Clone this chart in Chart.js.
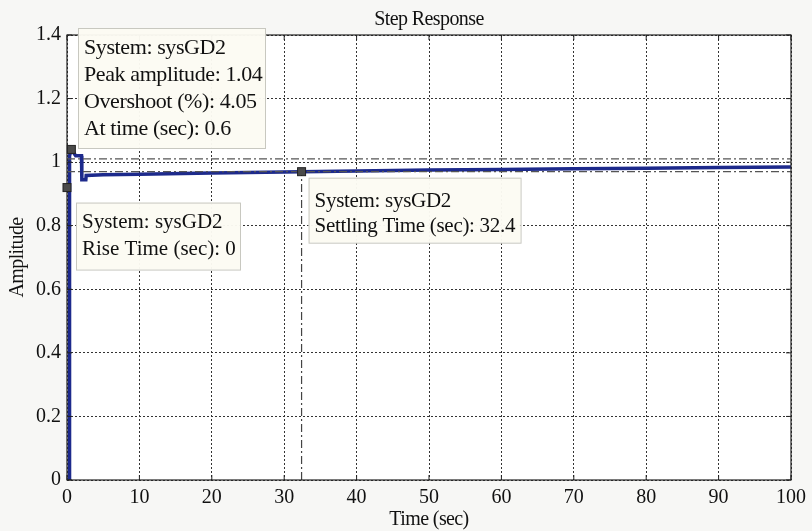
<!DOCTYPE html>
<html><head><meta charset="utf-8">
<script src="https://cdn.jsdelivr.net/npm/chart.js@4"></script>
<style>html,body{margin:0;padding:0;background:#f7f7f5;}#wrap{width:812px;height:531px;}</style>
</head><body><div id="wrap"><canvas id="c" width="812" height="531"></canvas></div>
<script>
// ---- data ----
const time = [0, 0.3, 0.35, 0.6, 1.2, 2.0, 2.05, 2.6, 2.65, 5, 10, 20, 32.4, 40, 50, 60, 70, 80, 90, 100];
const amplitude = [0, 0.0, 1.02, 1.04, 1.02, 1.02, 0.945, 0.945, 0.958, 0.96, 0.962, 0.966, 0.970, 0.972, 0.975, 0.977, 0.979, 0.981, 0.983, 0.985];
const bandUpper = 1.01;
const bandLower = 0.97;
const settlingTime = 32.4;
const peak = {t: 0.6, a: 1.04};
const riseMark = {t: 0, a: 0.92};
const settleMark = {t: 32.4, a: 0.97};
const xTicks = [0,10,20,30,40,50,60,70,80,90,100];
const yTicks = [0,0.2,0.4,0.6,0.8,1,1.2,1.4];
const tipPeak = ["System: sysGD2", "Peak amplitude: 1.04", "Overshoot (%): 4.05", "At time (sec): 0.6"];
const tipRise = ["System: sysGD2", "Rise Time (sec): 0"];
const tipSettle = ["System: sysGD2", "Settling Time (sec): 32.4"];

const SERIF = '"Liberation Serif", "DejaVu Serif", serif';
const respData = time.map((t,i)=>({x:t, y:amplitude[i]}));

const overlay = {
  id:'overlay',
  beforeDraw(chart){
    const {ctx, chartArea:a} = chart;
    ctx.save();
    ctx.fillStyle = '#ffffff';
    ctx.fillRect(a.left, a.top, a.right-a.left, a.bottom-a.top);
    ctx.restore();
  },
  afterDraw(chart){
    const {ctx, chartArea:a, scales:{x,y}} = chart;
    ctx.save();
    // border
    ctx.strokeStyle = '#222'; ctx.lineWidth = 1.2; ctx.setLineDash([]);
    ctx.strokeRect(a.left, a.top, a.right-a.left, a.bottom-a.top);
    // small inner tick marks
    ctx.lineWidth = 1;
    xTicks.forEach(v=>{const px=x.getPixelForValue(v); ctx.beginPath(); ctx.moveTo(px,a.bottom); ctx.lineTo(px,a.bottom-5); ctx.moveTo(px,a.top); ctx.lineTo(px,a.top+5); ctx.stroke();});
    yTicks.forEach(v=>{const py=y.getPixelForValue(v); ctx.beginPath(); ctx.moveTo(a.left,py); ctx.lineTo(a.left+5,py); ctx.moveTo(a.right,py); ctx.lineTo(a.right-5,py); ctx.stroke();});
    // titles
    ctx.fillStyle = '#111';
    ctx.font = '20px ' + SERIF;
    ctx.letterSpacing = '-0.6px';
    ctx.textAlign = 'center'; ctx.textBaseline = 'middle';
    ctx.fillText('Step Response', (a.left+a.right)/2, 20);
    ctx.font = '20px ' + SERIF;
    ctx.letterSpacing = '-0.6px';
    ctx.fillText('Time (sec)', (a.left+a.right)/2, 520);
    ctx.save();
    ctx.translate(18, (a.top+a.bottom)/2);
    ctx.rotate(-Math.PI/2);
    ctx.fillText('Amplitude', 0, 0);
    ctx.restore();
    // data tips
    const box = (lines, x0, y0, w, h, lh, first, fs, sp) => {
      ctx.fillStyle = 'rgba(252,251,243,0.97)';
      ctx.strokeStyle = '#c8c8c0'; ctx.lineWidth = 1; ctx.setLineDash([]);
      ctx.fillRect(x0, y0, w, h);
      ctx.strokeRect(x0+0.5, y0+0.5, w, h);
      ctx.fillStyle = '#111';
      ctx.font = fs + 'px ' + SERIF;
      ctx.letterSpacing = sp + 'px';
      ctx.textAlign = 'left'; ctx.textBaseline = 'middle';
      lines.forEach((s,i)=>ctx.fillText(s, x0+6, y0 + first + lh*i));
    };
    const px0 = x.getPixelForValue(0);
    box(tipPeak, px0+11, y.getPixelForValue(1.4)-7, 187, 120, 27, 20, 22, -0.4);
    box(tipRise, px0+9, y.getPixelForValue(riseMark.a)+15, 164, 67, 27, 20, 21, 0);
    box(tipSettle, x.getPixelForValue(settleMark.t)+7, y.getPixelForValue(settleMark.a)+6, 212, 65, 25, 24, 21, -0.3);
    // markers on top
    const mk = (t,v)=>{
      const px = x.getPixelForValue(t), py = y.getPixelForValue(v);
      ctx.fillStyle = '#4a4a4a'; ctx.strokeStyle = '#222'; ctx.lineWidth = 1;
      ctx.fillRect(px-4, py-4, 8, 8); ctx.strokeRect(px-4, py-4, 8, 8);
    };
    mk(peak.t, peak.a); mk(riseMark.t, riseMark.a); mk(settleMark.t, settleMark.a);
    ctx.restore();
  }
};

new Chart(document.getElementById('c'), {
  type: 'scatter',
  data: {
    datasets: [
      {label:'upper', data:[{x:0,y:bandUpper},{x:100,y:bandUpper}], showLine:true, borderColor:'#555', borderWidth:1.2, borderDash:[8,3,2,3], pointRadius:0},
      {label:'lower', data:[{x:0,y:bandLower},{x:100,y:bandLower}], showLine:true, borderColor:'#555', borderWidth:1.2, borderDash:[8,3,2,3], pointRadius:0},
      {label:'settle', data:[{x:settlingTime,y:0},{x:settlingTime,y:settleMark.a}], showLine:true, borderColor:'#444', borderWidth:1.2, borderDash:[8,3,2,3], pointRadius:0},
      {label:'sysGD2', data:respData, showLine:true, borderColor:'#1d2a8c', borderWidth:3.5, pointRadius:0, tension:0}
    ]
  },
  options: {
    responsive:false, animation:false, devicePixelRatio:1,
    layout:{padding:{top:35, right:17, left:0, bottom:0}},
    plugins:{legend:{display:false}, tooltip:{enabled:false}, title:{display:false}},
    scales:{
      x:{type:'linear', min:0, max:100,
        afterBuildTicks(s){ s.ticks = xTicks.map(v=>({value:v})); },
        afterFit(s){ s.height = 51; },
        grid:{color:'#333', lineWidth:1, drawTicks:false},
        border:{display:false, dash:[2,2]},
        ticks:{color:'#111', font:{family:SERIF, size:20}, padding:6, maxRotation:0, autoSkip:false, callback:v=>String(v)}
      },
      y:{type:'linear', min:0, max:1.4,
        afterBuildTicks(s){ s.ticks = yTicks.map(v=>({value:v})); },
        afterFit(s){ s.width = 67; },
        grid:{color:'#333', lineWidth:1, drawTicks:false},
        border:{display:false, dash:[2,2]},
        ticks:{color:'#111', font:{family:SERIF, size:20}, padding:6, autoSkip:false, callback:v=>String(v)}
      }
    }
  },
  plugins:[overlay]
});
</script></body></html>
